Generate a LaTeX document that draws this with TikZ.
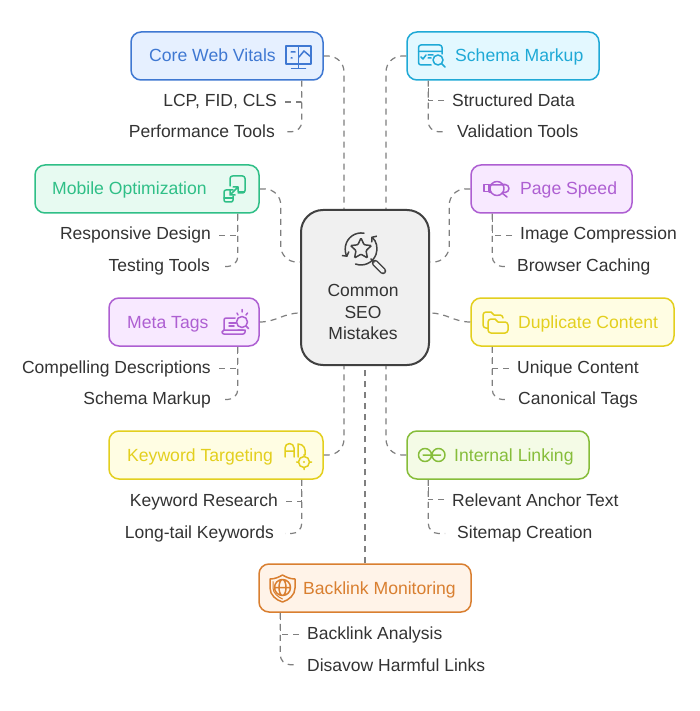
\documentclass[tikz,border=0pt]{standalone}
\usepackage{xcolor}
\usepackage{fontspec}
\setmainfont{Liberation Sans}
\usetikzlibrary{arrows.meta,shapes.geometric}

\definecolor{coreline}{HTML}{3F78D2}
\definecolor{corefill}{HTML}{E6F0FF}
\definecolor{schemaline}{HTML}{1FA9D6}
\definecolor{schemafill}{HTML}{E3F8FF}
\definecolor{mobileline}{HTML}{2FBF87}
\definecolor{mobilefill}{HTML}{E7FAF1}
\definecolor{purpleline}{HTML}{AE5FD2}
\definecolor{purplefill}{HTML}{F8E9FF}
\definecolor{yellowline}{HTML}{E3CF1E}
\definecolor{yellowfill}{HTML}{FFFDE3}
\definecolor{greenline}{HTML}{86BD3A}
\definecolor{greenfill}{HTML}{F4FBE6}
\definecolor{orangeline}{HTML}{D97F30}
\definecolor{orangefill}{HTML}{FFF3E8}
\definecolor{hubline}{HTML}{404040}
\definecolor{hubfill}{HTML}{F0F0F0}
\definecolor{itemtext}{HTML}{333333}
\definecolor{linkgray}{HTML}{7F7F7F}

\tikzset{
	card/.style={rounded corners=10, line width=1.5, minimum height=48, inner sep=0},
	cardtext/.style={font=\fontsize{17.6}{20}\selectfont, anchor=base west, inner sep=0},
	itemleft/.style={font=\fontsize{17.5}{21}\selectfont, text=itemtext, anchor=base east, inner sep=0},
	itemright/.style={font=\fontsize{17.5}{21}\selectfont, text=itemtext, anchor=base west, inner sep=0},
	link/.style={draw=linkgray, line width=1.2, dash pattern=on 6 off 5},
	icon/.style={line width=1.5, line cap=round, line join=round},
}

\begin{document}
\begin{tikzpicture}[x=1pt, y=-1pt]

\useasboundingbox[fill=white] (0,0) rectangle (700,711);

\node[card, draw=coreline, fill=corefill, minimum width=192] (core) at (227,56) {};
\node[card, draw=schemaline, fill=schemafill, minimum width=192] (schema) at (503,56) {};
\node[card, draw=mobileline, fill=mobilefill, minimum width=224] (mobile) at (147,189) {};
\node[card, draw=purpleline, fill=purplefill, minimum width=161] (speed) at (551.5,189) {};
\node[card, draw=purpleline, fill=purplefill, minimum width=150] (meta) at (184,322) {};
\node[card, draw=yellowline, fill=yellowfill, minimum width=203] (duplicate) at (572.5,322) {};
\node[card, draw=yellowline, fill=yellowfill, minimum width=214] (keyword) at (216,455) {};
\node[card, draw=greenline, fill=greenfill, minimum width=182] (internal) at (498,455) {};
\node[card, draw=orangeline, fill=orangefill, minimum width=212] (backlink) at (365,588) {};

\node[draw=hubline, fill=hubfill, line width=2, rounded corners=22, minimum width=128, minimum height=155, inner sep=0] (hub) at (365,287.5) {};

\node[cardtext, text=coreline] (coretext) at (149,62) {Core Web Vitals};
\node[cardtext, text=schemaline] (schematext) at (455,62) {Schema Markup};
\node[cardtext, text=mobileline] (mobiletext) at (52,195) {Mobile Optimization};
\node[cardtext, text=purpleline] (speedtext) at (520,195) {Page Speed};
\node[cardtext, text=purpleline] (metatext) at (127,328) {Meta Tags};
\node[cardtext, text=yellowline] (duplicatetext) at (518,328) {Duplicate Content};
\node[cardtext, text=yellowline] (keywordtext) at (127,461) {Keyword Targeting};
\node[cardtext, text=greenline] (internaltext) at (454,461) {Internal Linking};
\node[cardtext, text=orangeline] (backlinktext) at (303,594) {Backlink Monitoring};

\node[font=\fontsize{17.5}{21.5}\selectfont, text=itemtext, align=center, inner sep=0] (hubtext) at (363,312) {Common\\SEO\\Mistakes};

\foreach \nm/\x/\y/\txt in {
	lcp/277/107/{LCP, FID, CLS},
	perf/275/138/{Performance Tools},
	responsive/211/240/{Responsive Design},
	testing/210/271/{Testing Tools},
	compelling/211/373/{Compelling Descriptions},
	schemaitem/211/404/{Schema Markup},
	research/278/506/{Keyword Research},
	longtail/274/538/{Long-tail Keywords}
} {
	\node[itemleft] (\nm) at (\x,\y) {\txt};
}

\foreach \nm/\x/\y/\txt in {
	structured/452/107/{Structured Data},
	validation/457/138/{Validation Tools},
	compression/520/240/{Image Compression},
	caching/517/271/{Browser Caching},
	unique/517/373/{Unique Content},
	canonical/518/404/{Canonical Tags},
	anchortext/452/506/{Relevant Anchor Text},
	sitemap/457/538/{Sitemap Creation},
	analysis/307/639/{Backlink Analysis},
	disavow/307/671/{Disavow Harmful Links}
} {
	\node[itemright] (\nm) at (\x,\y) {\txt};
}

% card to hub
\draw[link, rounded corners=16] (core.east) -| ([xshift=-21]hub.north);
\draw[link, rounded corners=16] (schema.west) -| ([xshift=21]hub.north);
\draw[link, rounded corners=16] (mobile.east) -- ++(21,0) |- ([yshift=25.5]hub.west);
\draw[link, rounded corners=16] (speed.west) -- ++(-21,0) |- ([yshift=25.5]hub.east);
\draw[link] (meta.east) to[out=0, in=180] ([yshift=-25.5]hub.west);
\draw[link] (duplicate.west) to[out=180, in=0] ([yshift=-25.5]hub.east);
\draw[link, rounded corners=16] (keyword.east) -| ([xshift=-21]hub.south);
\draw[link, rounded corners=16] (internal.west) -| ([xshift=21]hub.south);
\draw[link] (backlink.north) -- (hub.south);

% card to items
\foreach \card/\corner/\dx/\item/\side/\gap/\dy in {
	core/south east/-22/lcp/east/8/-6,
	mobile/south east/-22/responsive/east/8/-6,
	meta/south east/-22/compelling/east/8/-6,
	keyword/south east/-22/research/east/8/-6,
	schema/south west/22/structured/west/-8/-6,
	speed/south west/22/compression/west/-8/-6,
	duplicate/south west/22/unique/west/-8/-6,
	internal/south west/22/anchortext/west/-8/-6,
	backlink/south west/22/analysis/west/-8/-6
} {
	\draw[link] ([xshift=\gap]\item.\side) -| ([xshift=\dx]\card.\corner);
}

\foreach \card/\corner/\dx/\item/\side/\gap in {
	core/south east/-22/perf/east/10,
	mobile/south east/-22/testing/east/11,
	meta/south east/-22/schemaitem/east/11,
	keyword/south east/-22/longtail/east/11,
	schema/south west/22/validation/west/-12,
	speed/south west/22/caching/west/-9,
	duplicate/south west/22/canonical/west/-10,
	internal/south west/22/sitemap/west/-12,
	backlink/south west/22/disavow/west/-10
} {
	\draw[link, rounded corners=10] ([xshift=\dx]\card.\corner) |- ([xshift=\gap]\item.\side);
}

% core web vitals icon
\draw[icon, coreline] (286,46) rectangle (311,64);
\draw[icon, coreline] (298.5,46)--(298.5,64) (298.5,64)--(298.5,68) (291.5,68.5)--(305.5,68.5);
\draw[icon, coreline] (291,52)--(295,52) (291,58)--(292,58) (299,57)--(304,51)--(311,57);

% schema markup icon
\draw[icon, schemaline] (431,65)--(421,65) arc (90:180:2.5)--(418.5,47.5) arc (180:270:2.5)--(439.5,45) arc (-90:0:2.5)--(442,54);
\draw[icon, schemaline] (418.5,51.5)--(442,51.5) (421,57)--(423,59)--(426,55) (428,55)--(433,55) (428,58)--(431,58);
\draw[icon, schemaline] (438,60) circle (5) (442,64)--(445,67);

% mobile icon
\draw[icon, mobileline] (230,186)--(230,178.5) arc (180:270:2.5)--(242.5,176) arc (-90:0:2.5)--(245,190.5) arc (0:90:2.5)--(238,193);
\draw[icon, mobileline] (239,192)--(244,192);
\draw[icon, mobileline] (233,190)--(226,190) arc (270:180:2)--(224,200) arc (180:90:2)--(231,202) arc (90:0:2)--(233,196);
\draw[icon, mobileline] (224,198)--(233,198);
\draw[icon, mobileline] (230,195)--(238,187) (233,187)--(238,187)--(238,192) (230,190)--(230,195)--(235,195);

% page speed icon
\draw[icon, purpleline] (484,184.5) rectangle (489,191.5);
\draw[icon, purpleline] (489,186)--(491,184.5) (503,184.5)--(505,184.5) arc (-90:90:4)--(503,192.5);
\draw[icon, purpleline] (489,192)--(491,192.5);
\draw[icon, purpleline] (497,188.5) ellipse (7 and 7);
\draw[icon, purpleline] (490,185)--(504,185) (502,193)--(507,197);

% meta tags icon
\draw[icon, purpleline] (242,322) circle (5.5) (246,326)--(248.5,328.5);
\draw[icon, purpleline] (237,313)--(238,315) (242,309.5)--(242,312) (247.5,313)--(246,315);
\draw[icon, purpleline] (235,318)--(226,318) arc (270:180:2)--(224,330) (238,330)--(243,330);
\draw[icon, purpleline] (229,323)--(236,323) (229,326)--(234,326);
\draw[icon, purpleline] (224,330)--(245,330)--(245,332) arc (0:90:2)--(224,334) arc (90:180:2)--(222,332)--(224,330);

% duplicate content icon
\draw[icon, yellowline] (488,328)--(486,328) arc (90:180:3)--(483,315) arc (180:270:3)--(491,312)--(494,315)--(500,315) arc (-90:0:3)--(503,318);
\draw[icon, yellowline] (488,322) arc (180:270:3)--(495,319)--(498,322)--(505,322) arc (-90:0:3)--(508,330) arc (0:90:3)--(491,333) arc (90:180:3)--cycle;

% keyword targeting icon
\draw[icon, yellowline] (285,457)--(285,448) arc (180:360:4.5)--(294,457) (285,451)--(294,451);
\draw[icon, yellowline] (298,457)--(298,444) .. controls (304,444) and (306,449) .. (305,455);
\draw[icon, yellowline] (304,462) circle (5.5) (304,454.5)--(304,456.5) (304,467.5)--(304,469.5) (296.5,462)--(298.5,462) (309.5,462)--(311.5,462);
\fill[yellowline] (304,462) circle (1.2);

% internal linking icon
\draw[icon, greenline] (425,455) circle (6.5) (438.5,455) circle (6.5) (423,455)--(440.5,455);

% backlink monitoring icon
\draw[icon, orangeline] (270,579) .. controls (275,579) and (279,577) .. (282.5,575) .. controls (286,577) and (290,579) .. (295,579)--(295,588) .. controls (295,595) and (289,600) .. (282.5,602) .. controls (276,600) and (270,595) .. (270,588)--cycle;
\draw[icon, orangeline, line width=1] (273,581.5)--(273,588) .. controls (273,593) and (278,597) .. (282.5,599);
\draw[icon, orangeline] (282.5,587.5) circle (8) (282.5,587.5) ellipse (3.5 and 8) (274.5,587.5)--(290.5,587.5);

% hub icon
\draw[icon, hubline, -{Straight Barb[length=3,width=8]}] (364,233.2) arc (-80:-210:16);
\draw[icon, hubline, -{Straight Barb[length=3,width=8]}] (355.5,264) arc (110:-50:16);
\node[star, star points=5, star point ratio=2.1, draw=hubline, line width=1.5, rounded corners=1, minimum size=22, inner sep=0] (hubstar) at (361,249) {};
\draw[hubline, line width=6.5, line cap=round] (375,263)--(383,271);
\draw[hubfill, line width=3.8, line cap=round] (375,263)--(383,271);
\draw[icon, hubline] (371,259)--(374,262);

\end{tikzpicture}
\end{document}
